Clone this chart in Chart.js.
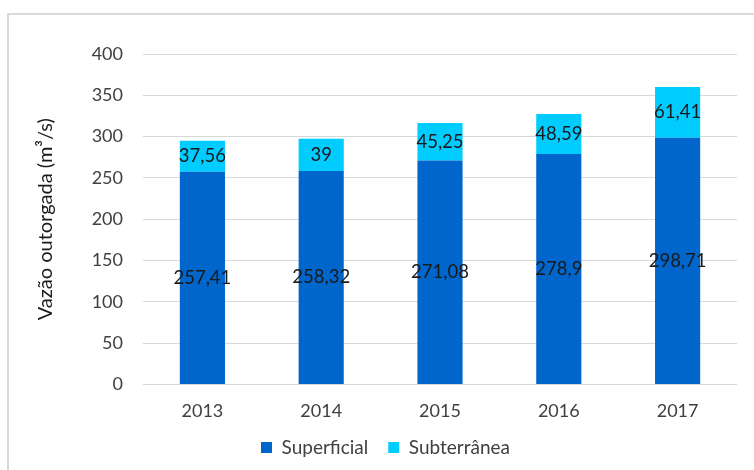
<!DOCTYPE html>
<html>
<head>
<meta charset="utf-8">
<script src="https://cdn.jsdelivr.net/npm/chart.js@4.4.0/dist/chart.umd.min.js"></script>
<style>
  html, body { margin: 0; padding: 0; background: #fff; }
  #frame { position: absolute; left: 7px; top: 13px; width: 747px; height: 457px;
           border-left: 2px solid #d9d9d9; border-top: 2px solid #d9d9d9; }
  #wrap { position: absolute; left: 0; top: 0; width: 754px; height: 470px; }
</style>
</head>
<body>
<div id="frame"></div>
<div id="wrap"><canvas id="chart" width="754" height="470"></canvas></div>
<script>
// data
var years = ["2013", "2014", "2015", "2016", "2017"];
var superficial = [257.41, 258.32, 271.08, 278.9, 298.71];
var subterranea = [37.56, 39, 45.25, 48.59, 61.41];

var FONT = "Lato";

// labels in the middle of each bar segment
var barLabels = {
  id: "barLabels",
  afterDatasetsDraw: function(chart) {
    var ctx = chart.ctx;
    ctx.save();
    ctx.font = "18.5px " + FONT;
    ctx.fillStyle = "#1a1a1a";
    ctx.textAlign = "center";
    ctx.textBaseline = "middle";
    chart.data.datasets.forEach(function(ds, i) {
      chart.getDatasetMeta(i).data.forEach(function(bar, j) {
        var p = bar.getCenterPoint();
        ctx.fillText(String(ds.data[j]).replace(".", ","), p.x, p.y);
      });
    });
    ctx.restore();
  }
};

var ctx = document.getElementById("chart");
new Chart(ctx, {
  type: "bar",
  data: {
    labels: years,
    datasets: [
      { label: "Superficial", data: superficial, backgroundColor: "#0066CC" },
      { label: "Subterrânea", data: subterranea, backgroundColor: "#00CCFF" }
    ]
  },
  options: {
    responsive: false,
    animation: false,
    layout: { padding: { left: 34, right: 17, top: 54, bottom: 3 } },
    datasets: { bar: { barPercentage: 1, categoryPercentage: 0.38 } },
    plugins: {
      tooltip: { enabled: false },
      legend: {
        position: "bottom",
        labels: {
          font: { family: FONT, size: 19 },
          color: "#404040",
          boxWidth: 11,
          boxHeight: 11,
          padding: 20
        }
      }
    },
    scales: {
      x: {
        stacked: true,
        afterFit: function(scale) { scale.height -= 12; },
        grid: { display: false },
        border: { display: false },
        ticks: { font: { family: FONT, size: 18 }, color: "#404040", padding: 8 }
      },
      y: {
        stacked: true,
        min: 0,
        max: 400,
        afterFit: function(scale) { scale.width = 109; },
        grid: { color: "#d9d9d9", drawTicks: false },
        border: { display: false },
        ticks: { stepSize: 50, font: { family: FONT, size: 18 }, color: "#404040", padding: 20 },
        title: {
          display: true,
          text: "Vazão outorgada (m³/s)",
          font: { family: FONT, size: 20 },
          color: "#1a1a1a",
          padding: 0
        }
      }
    }
  },
  plugins: [barLabels]
});
</script>
</body>
</html>
